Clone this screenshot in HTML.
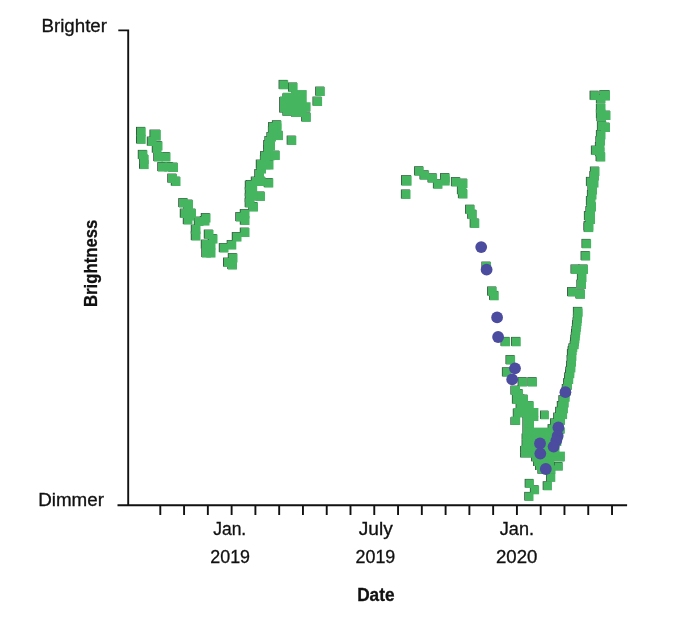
<!DOCTYPE html>
<html><head><meta charset="utf-8"><title>Brightness over time</title>
<style>html,body{margin:0;padding:0;background:#fff}svg{display:block}text{fill:#111;stroke:#111;stroke-width:.3px}</style></head>
<body>
<svg width="680" height="625" viewBox="0 0 680 625">
<rect width="680" height="625" fill="#fff"/>
<path d="M118.3 30.4H128.2V505.3M117.5 505.3H627.1M160.30 505.3V515M184.08 505.3V515M207.85 505.3V515M231.62 505.3V515M255.40 505.3V515M279.18 505.3V515M302.95 505.3V515M326.73 505.3V515M350.50 505.3V515M374.27 505.3V515M398.05 505.3V515M421.82 505.3V515M445.60 505.3V515M469.38 505.3V515M493.15 505.3V515M516.92 505.3V515M540.70 505.3V515M564.47 505.3V515M588.25 505.3V515M612.02 505.3V515" fill="none" stroke="#111" stroke-width="1.9"/>
<g font-family="Liberation Sans, sans-serif" font-size="17.5">
<text x="41.5" y="32" textLength="65.5" lengthAdjust="spacingAndGlyphs">Brighter</text>
<text x="38.2" y="505.8" textLength="65.8" lengthAdjust="spacingAndGlyphs">Dimmer</text>
<text x="213.2" y="534.8" textLength="33" lengthAdjust="spacingAndGlyphs">Jan.</text>
<text x="210.3" y="562.8" textLength="39.7" lengthAdjust="spacingAndGlyphs">2019</text>
<text x="358.8" y="534.8" textLength="34" lengthAdjust="spacingAndGlyphs">July</text>
<text x="355.6" y="562.8" textLength="39.7" lengthAdjust="spacingAndGlyphs">2019</text>
<text x="499.8" y="534.8" textLength="34.2" lengthAdjust="spacingAndGlyphs">Jan.</text>
<text x="496" y="562.8" textLength="41.4" lengthAdjust="spacingAndGlyphs">2020</text>
<text x="357.2" y="600.9" font-weight="bold" textLength="37.3" lengthAdjust="spacingAndGlyphs">Date</text>
<text transform="translate(97.4 307) rotate(-90)" font-weight="bold" font-size="18" textLength="87.3" lengthAdjust="spacingAndGlyphs">Brightness</text>
</g>
<g fill="#2c3a30"><rect x="136.0" y="126.9" width="9.0" height="9.0"/><rect x="136.0" y="134.4" width="9.0" height="9.0"/><rect x="137.8" y="149.9" width="9.0" height="9.0"/><rect x="139.0" y="154.6" width="9.0" height="9.0"/><rect x="139.0" y="159.7" width="9.0" height="9.0"/><rect x="152.8" y="141.1" width="9.0" height="9.0"/><rect x="149.5" y="129.6" width="10.6" height="10.6"/><rect x="146.8" y="136.6" width="9.0" height="9.0"/><rect x="151.8" y="143.6" width="9.0" height="9.0"/><rect x="153.3" y="152.1" width="9.0" height="9.0"/><rect x="160.8" y="152.1" width="9.0" height="9.0"/><rect x="157.3" y="162.1" width="9.0" height="9.0"/><rect x="163.8" y="162.1" width="9.0" height="9.0"/><rect x="168.3" y="162.6" width="9.0" height="9.0"/><rect x="167.3" y="173.6" width="9.0" height="9.0"/><rect x="170.8" y="176.6" width="9.0" height="9.0"/><rect x="178.3" y="198.1" width="9.0" height="9.0"/><rect x="183.3" y="199.6" width="9.0" height="9.0"/><rect x="179.8" y="208.6" width="9.0" height="9.0"/><rect x="184.8" y="211.1" width="9.0" height="9.0"/><rect x="182.8" y="215.1" width="9.0" height="9.0"/><rect x="200.8" y="213.1" width="9.0" height="9.0"/><rect x="199.8" y="216.1" width="9.0" height="9.0"/><rect x="193.8" y="216.6" width="9.0" height="9.0"/><rect x="190.8" y="224.6" width="9.0" height="9.0"/><rect x="190.8" y="231.1" width="9.0" height="9.0"/><rect x="203.8" y="229.6" width="9.0" height="9.0"/><rect x="207.8" y="234.1" width="9.0" height="9.0"/><rect x="200.8" y="239.6" width="9.0" height="9.0"/><rect x="205.8" y="240.1" width="9.0" height="9.0"/><rect x="201.3" y="248.1" width="9.0" height="9.0"/><rect x="205.8" y="248.1" width="9.0" height="9.0"/><rect x="218.8" y="243.1" width="9.0" height="9.0"/><rect x="226.7" y="240.1" width="9.0" height="9.0"/><rect x="231.8" y="232.1" width="9.0" height="9.0"/><rect x="239.8" y="227.6" width="9.0" height="9.0"/><rect x="227.8" y="253.1" width="9.0" height="9.0"/><rect x="223.0" y="257.6" width="9.0" height="9.0"/><rect x="227.3" y="260.1" width="9.0" height="9.0"/><rect x="235.3" y="212.1" width="9.0" height="9.0"/><rect x="239.8" y="209.1" width="9.0" height="9.0"/><rect x="239.8" y="215.6" width="9.0" height="9.0"/><rect x="244.8" y="180.6" width="9.0" height="9.0"/><rect x="244.8" y="187.1" width="9.0" height="9.0"/><rect x="244.8" y="193.1" width="9.0" height="9.0"/><rect x="248.3" y="202.1" width="9.0" height="9.0"/><rect x="244.7" y="198.1" width="9.0" height="9.0"/><rect x="255.3" y="191.5" width="9.0" height="9.0"/><rect x="245.8" y="180.1" width="9.0" height="9.0"/><rect x="250.8" y="176.6" width="9.0" height="9.0"/><rect x="255.8" y="176.6" width="9.0" height="9.0"/><rect x="263.7" y="178.1" width="9.0" height="9.0"/><rect x="254.3" y="169.1" width="9.0" height="9.0"/><rect x="256.4" y="164.1" width="9.0" height="9.0"/><rect x="255.8" y="159.6" width="9.0" height="9.0"/><rect x="260.9" y="159.9" width="9.0" height="9.0"/><rect x="263.9" y="160.1" width="9.0" height="9.0"/><rect x="259.9" y="155.1" width="9.0" height="9.0"/><rect x="260.1" y="151.1" width="9.0" height="9.0"/><rect x="264.9" y="151.1" width="9.0" height="9.0"/><rect x="270.2" y="150.6" width="9.0" height="9.0"/><rect x="263.2" y="145.1" width="9.0" height="9.0"/><rect x="263.2" y="140.1" width="9.0" height="9.0"/><rect x="264.4" y="136.1" width="9.0" height="9.0"/><rect x="266.4" y="132.1" width="9.0" height="9.0"/><rect x="273.4" y="130.7" width="9.0" height="9.0"/><rect x="267.9" y="126.1" width="9.0" height="9.0"/><rect x="271.8" y="123.1" width="9.0" height="9.0"/><rect x="271.9" y="120.3" width="9.0" height="9.0"/><rect x="268.1" y="122.1" width="9.0" height="9.0"/><rect x="286.7" y="135.6" width="9.0" height="9.0"/><rect x="247.5" y="185.1" width="9.0" height="9.0"/><rect x="247.5" y="191.1" width="9.0" height="9.0"/><rect x="186.3" y="208.6" width="9.0" height="9.0"/><rect x="265.4" y="141.1" width="9.0" height="9.0"/><rect x="278.6" y="79.9" width="9.0" height="9.0"/><rect x="288.0" y="82.5" width="9.0" height="9.0"/><rect x="315.2" y="86.6" width="9.0" height="9.0"/><rect x="312.5" y="96.6" width="9.0" height="9.0"/><rect x="301.2" y="112.4" width="9.0" height="9.0"/><rect x="282.4" y="93.3" width="9.0" height="22.4"/><rect x="279.2" y="97.0" width="4.2" height="15.5"/><rect x="291.4" y="90.7" width="14.7" height="26.3"/><rect x="305.4" y="102.9" width="4.6" height="8.6"/><rect x="401.0" y="175.2" width="10.0" height="10.0"/><rect x="400.9" y="189.5" width="9.0" height="9.0"/><rect x="414.1" y="166.3" width="9.0" height="9.0"/><rect x="419.5" y="170.3" width="9.0" height="9.0"/><rect x="427.5" y="173.3" width="9.0" height="9.0"/><rect x="432.9" y="179.3" width="9.0" height="9.0"/><rect x="440.1" y="173.1" width="9.0" height="9.0"/><rect x="440.1" y="176.1" width="9.0" height="9.0"/><rect x="450.9" y="177.1" width="9.0" height="9.0"/><rect x="457.9" y="178.6" width="9.0" height="9.0"/><rect x="456.9" y="185.1" width="9.0" height="9.0"/><rect x="457.9" y="189.1" width="9.0" height="9.0"/><rect x="465.1" y="204.7" width="9.0" height="9.0"/><rect x="467.2" y="209.7" width="9.0" height="9.0"/><rect x="469.7" y="218.5" width="9.0" height="9.0"/><rect x="481.4" y="261.6" width="9.0" height="9.0"/><rect x="487.1" y="286.5" width="9.0" height="9.0"/><rect x="489.1" y="290.9" width="9.0" height="9.0"/><rect x="500.5" y="336.9" width="9.0" height="9.0"/><rect x="511.1" y="336.9" width="9.0" height="9.0"/><rect x="505.5" y="355.1" width="9.0" height="9.0"/><rect x="501.9" y="367.3" width="9.0" height="9.0"/><rect x="517.6" y="377.1" width="9.0" height="9.0"/><rect x="527.4" y="377.1" width="9.0" height="9.0"/><rect x="510.4" y="385.6" width="9.0" height="9.0"/><rect x="513.4" y="389.1" width="9.0" height="9.0"/><rect x="515.4" y="394.6" width="9.0" height="9.0"/><rect x="518.4" y="394.6" width="9.0" height="9.0"/><rect x="516.4" y="401.1" width="9.0" height="9.0"/><rect x="523.9" y="401.1" width="9.0" height="9.0"/><rect x="515.6" y="402.0" width="17.3" height="7.0"/><rect x="512.8" y="408.6" width="25.0" height="8.6"/><rect x="522.4" y="417.0" width="15.4" height="4.0"/><rect x="510.4" y="417.2" width="9.2" height="7.7"/><rect x="522.4" y="421.0" width="11.0" height="15.0"/><rect x="511.9" y="394.6" width="9.0" height="9.0"/><rect x="540.0" y="410.6" width="8.3" height="8.3"/><rect x="524.4" y="428.2" width="39.8" height="5.3"/><rect x="521.6" y="433.5" width="40.8" height="6.0"/><rect x="521.6" y="439.5" width="39.1" height="6.5"/><rect x="520.1" y="446.0" width="38.7" height="6.5"/><rect x="520.1" y="452.2" width="44.1" height="5.2"/><rect x="531.1" y="457.4" width="33.1" height="3.9"/><rect x="533.1" y="461.3" width="20.6" height="4.7"/><rect x="535.0" y="466.0" width="19.4" height="4.0"/><rect x="537.4" y="470.0" width="17.5" height="3.7"/><rect x="554.0" y="462.0" width="8.2" height="8.2"/><rect x="546.1" y="472.8" width="8.6" height="8.6"/><rect x="542.7" y="481.3" width="8.6" height="8.6"/><rect x="524.7" y="478.9" width="8.6" height="8.6"/><rect x="529.9" y="485.3" width="8.6" height="8.6"/><rect x="524.3" y="491.9" width="8.6" height="8.6"/><rect x="551.9" y="427.1" width="9.0" height="9.0"/><rect x="547.6" y="424.2" width="9.0" height="9.0"/><rect x="553.3" y="421.3" width="9.0" height="9.0"/><rect x="550.0" y="418.4" width="9.0" height="9.0"/><rect x="555.3" y="415.5" width="9.0" height="9.0"/><rect x="553.2" y="412.6" width="9.0" height="9.0"/><rect x="557.4" y="409.7" width="9.0" height="9.0"/><rect x="555.2" y="406.8" width="9.0" height="9.0"/><rect x="558.2" y="403.9" width="9.0" height="9.0"/><rect x="556.8" y="401.0" width="9.0" height="9.0"/><rect x="559.1" y="398.1" width="9.0" height="9.0"/><rect x="558.4" y="395.2" width="9.0" height="9.0"/><rect x="560.0" y="392.3" width="9.0" height="9.0"/><rect x="560.4" y="389.8" width="8.3" height="8.3"/><rect x="561.7" y="386.9" width="8.3" height="8.3"/><rect x="561.8" y="384.0" width="8.3" height="8.3"/><rect x="563.1" y="381.1" width="8.3" height="8.3"/><rect x="563.1" y="378.2" width="8.3" height="8.3"/><rect x="564.2" y="375.3" width="8.3" height="8.3"/><rect x="564.2" y="372.4" width="8.3" height="8.3"/><rect x="565.3" y="369.5" width="8.3" height="8.3"/><rect x="565.3" y="366.6" width="8.3" height="8.3"/><rect x="566.4" y="363.7" width="8.3" height="8.3"/><rect x="566.2" y="360.8" width="8.3" height="8.3"/><rect x="567.0" y="357.9" width="8.3" height="8.3"/><rect x="566.6" y="355.0" width="8.3" height="8.3"/><rect x="567.4" y="352.1" width="8.3" height="8.3"/><rect x="566.9" y="349.2" width="8.3" height="8.3"/><rect x="567.6" y="346.3" width="8.3" height="8.3"/><rect x="568.4" y="343.4" width="8.3" height="8.3"/><rect x="569.7" y="340.5" width="8.3" height="8.3"/><rect x="570.1" y="337.6" width="8.3" height="8.3"/><rect x="570.4" y="334.7" width="8.3" height="8.3"/><rect x="570.8" y="331.8" width="8.3" height="8.3"/><rect x="571.1" y="328.9" width="8.3" height="8.3"/><rect x="571.5" y="326.0" width="8.3" height="8.3"/><rect x="571.9" y="323.1" width="8.3" height="8.3"/><rect x="572.2" y="320.2" width="8.3" height="8.3"/><rect x="572.6" y="317.3" width="8.3" height="8.3"/><rect x="572.9" y="314.4" width="8.3" height="8.3"/><rect x="573.1" y="311.5" width="8.3" height="8.3"/><rect x="573.4" y="308.6" width="8.3" height="8.3"/><rect x="572.9" y="306.9" width="9.0" height="9.0"/><rect x="567.1" y="287.1" width="9.0" height="9.0"/><rect x="575.4" y="289.4" width="9.0" height="9.0"/><rect x="576.9" y="272.6" width="9.0" height="9.0"/><rect x="576.4" y="279.6" width="9.0" height="9.0"/><rect x="570.5" y="264.5" width="9.0" height="9.0"/><rect x="578.4" y="264.5" width="9.0" height="9.0"/><rect x="580.6" y="251.1" width="9.0" height="9.0"/><rect x="581.5" y="238.9" width="9.0" height="9.0"/><rect x="583.6" y="222.7" width="9.0" height="9.0"/><rect x="583.6" y="221.1" width="9.0" height="9.0"/><rect x="585.4" y="214.6" width="9.0" height="9.0"/><rect x="583.9" y="211.1" width="9.0" height="9.0"/><rect x="585.4" y="206.1" width="9.0" height="9.0"/><rect x="586.4" y="202.1" width="9.0" height="9.0"/><rect x="585.9" y="196.1" width="9.0" height="9.0"/><rect x="586.9" y="190.1" width="9.0" height="9.0"/><rect x="587.4" y="185.1" width="9.0" height="9.0"/><rect x="588.9" y="178.1" width="9.0" height="9.0"/><rect x="585.9" y="176.9" width="9.0" height="9.0"/><rect x="589.4" y="171.1" width="9.0" height="9.0"/><rect x="589.9" y="166.6" width="9.0" height="9.0"/><rect x="595.6" y="152.1" width="9.0" height="9.0"/><rect x="594.9" y="147.1" width="9.0" height="9.0"/><rect x="590.9" y="145.6" width="9.0" height="9.0"/><rect x="594.9" y="142.1" width="9.0" height="9.0"/><rect x="595.4" y="136.1" width="9.0" height="9.0"/><rect x="595.9" y="130.1" width="9.0" height="9.0"/><rect x="596.9" y="121.1" width="9.0" height="9.0"/><rect x="600.4" y="122.6" width="9.0" height="9.0"/><rect x="600.9" y="110.6" width="9.0" height="9.0"/><rect x="596.4" y="112.1" width="9.0" height="9.0"/><rect x="595.9" y="109.1" width="9.0" height="9.0"/><rect x="595.9" y="103.6" width="9.0" height="9.0"/><rect x="595.9" y="94.1" width="9.0" height="9.0"/><rect x="589.6" y="90.7" width="9.0" height="9.0"/><rect x="599.4" y="90.1" width="10.0" height="10.0"/></g>
<g fill="#45b560"><rect x="136.7" y="127.3" width="9.0" height="9.0"/><rect x="136.7" y="134.8" width="9.0" height="9.0"/><rect x="138.4" y="150.3" width="9.0" height="9.0"/><rect x="139.7" y="155.0" width="9.0" height="9.0"/><rect x="139.7" y="160.1" width="9.0" height="9.0"/><rect x="153.5" y="141.5" width="9.0" height="9.0"/><rect x="150.2" y="130.0" width="10.6" height="10.6"/><rect x="147.5" y="137.0" width="9.0" height="9.0"/><rect x="152.5" y="144.0" width="9.0" height="9.0"/><rect x="154.0" y="152.5" width="9.0" height="9.0"/><rect x="161.5" y="152.5" width="9.0" height="9.0"/><rect x="158.0" y="162.5" width="9.0" height="9.0"/><rect x="164.5" y="162.5" width="9.0" height="9.0"/><rect x="169.0" y="163.0" width="9.0" height="9.0"/><rect x="168.0" y="174.0" width="9.0" height="9.0"/><rect x="171.5" y="177.0" width="9.0" height="9.0"/><rect x="179.0" y="198.5" width="9.0" height="9.0"/><rect x="184.0" y="200.0" width="9.0" height="9.0"/><rect x="180.5" y="209.0" width="9.0" height="9.0"/><rect x="185.5" y="211.5" width="9.0" height="9.0"/><rect x="183.5" y="215.5" width="9.0" height="9.0"/><rect x="201.5" y="213.5" width="9.0" height="9.0"/><rect x="200.5" y="216.5" width="9.0" height="9.0"/><rect x="194.5" y="217.0" width="9.0" height="9.0"/><rect x="191.5" y="225.0" width="9.0" height="9.0"/><rect x="191.5" y="231.5" width="9.0" height="9.0"/><rect x="204.5" y="230.0" width="9.0" height="9.0"/><rect x="208.5" y="234.5" width="9.0" height="9.0"/><rect x="201.5" y="240.0" width="9.0" height="9.0"/><rect x="206.5" y="240.5" width="9.0" height="9.0"/><rect x="202.0" y="248.5" width="9.0" height="9.0"/><rect x="206.5" y="248.5" width="9.0" height="9.0"/><rect x="219.5" y="243.5" width="9.0" height="9.0"/><rect x="227.3" y="240.5" width="9.0" height="9.0"/><rect x="232.5" y="232.5" width="9.0" height="9.0"/><rect x="240.5" y="228.0" width="9.0" height="9.0"/><rect x="228.5" y="253.5" width="9.0" height="9.0"/><rect x="223.7" y="258.0" width="9.0" height="9.0"/><rect x="228.0" y="260.5" width="9.0" height="9.0"/><rect x="236.0" y="212.5" width="9.0" height="9.0"/><rect x="240.5" y="209.5" width="9.0" height="9.0"/><rect x="240.5" y="216.0" width="9.0" height="9.0"/><rect x="245.5" y="181.0" width="9.0" height="9.0"/><rect x="245.5" y="187.5" width="9.0" height="9.0"/><rect x="245.5" y="193.5" width="9.0" height="9.0"/><rect x="249.0" y="202.5" width="9.0" height="9.0"/><rect x="245.3" y="198.5" width="9.0" height="9.0"/><rect x="256.0" y="191.9" width="9.0" height="9.0"/><rect x="246.5" y="180.5" width="9.0" height="9.0"/><rect x="251.5" y="177.0" width="9.0" height="9.0"/><rect x="256.5" y="177.0" width="9.0" height="9.0"/><rect x="264.3" y="178.5" width="9.0" height="9.0"/><rect x="255.0" y="169.5" width="9.0" height="9.0"/><rect x="257.0" y="164.5" width="9.0" height="9.0"/><rect x="256.5" y="160.0" width="9.0" height="9.0"/><rect x="261.5" y="160.3" width="9.0" height="9.0"/><rect x="264.5" y="160.5" width="9.0" height="9.0"/><rect x="260.5" y="155.5" width="9.0" height="9.0"/><rect x="260.7" y="151.5" width="9.0" height="9.0"/><rect x="265.5" y="151.5" width="9.0" height="9.0"/><rect x="270.8" y="151.0" width="9.0" height="9.0"/><rect x="263.8" y="145.5" width="9.0" height="9.0"/><rect x="263.8" y="140.5" width="9.0" height="9.0"/><rect x="265.0" y="136.5" width="9.0" height="9.0"/><rect x="267.0" y="132.5" width="9.0" height="9.0"/><rect x="274.0" y="131.1" width="9.0" height="9.0"/><rect x="268.5" y="126.5" width="9.0" height="9.0"/><rect x="272.4" y="123.5" width="9.0" height="9.0"/><rect x="272.5" y="120.7" width="9.0" height="9.0"/><rect x="268.7" y="122.5" width="9.0" height="9.0"/><rect x="287.3" y="136.0" width="9.0" height="9.0"/><rect x="248.2" y="185.5" width="9.0" height="9.0"/><rect x="248.2" y="191.5" width="9.0" height="9.0"/><rect x="187.0" y="209.0" width="9.0" height="9.0"/><rect x="266.0" y="141.5" width="9.0" height="9.0"/><rect x="279.2" y="80.3" width="9.0" height="9.0"/><rect x="288.6" y="82.9" width="9.0" height="9.0"/><rect x="315.8" y="87.0" width="9.0" height="9.0"/><rect x="313.1" y="97.0" width="9.0" height="9.0"/><rect x="301.9" y="112.8" width="9.0" height="9.0"/><rect x="283.0" y="92.7" width="9.0" height="23.0"/><rect x="279.8" y="96.4" width="4.2" height="16.1"/><rect x="292.0" y="90.1" width="14.7" height="26.9"/><rect x="306.0" y="102.3" width="4.6" height="9.2"/><rect x="401.6" y="175.6" width="10.0" height="10.0"/><rect x="401.5" y="189.9" width="9.0" height="9.0"/><rect x="414.7" y="166.7" width="9.0" height="9.0"/><rect x="420.1" y="170.7" width="9.0" height="9.0"/><rect x="428.1" y="173.7" width="9.0" height="9.0"/><rect x="433.5" y="179.7" width="9.0" height="9.0"/><rect x="440.7" y="173.5" width="9.0" height="9.0"/><rect x="440.7" y="176.5" width="9.0" height="9.0"/><rect x="451.5" y="177.5" width="9.0" height="9.0"/><rect x="458.5" y="179.0" width="9.0" height="9.0"/><rect x="457.5" y="185.5" width="9.0" height="9.0"/><rect x="458.5" y="189.5" width="9.0" height="9.0"/><rect x="465.7" y="205.1" width="9.0" height="9.0"/><rect x="467.8" y="210.1" width="9.0" height="9.0"/><rect x="470.3" y="218.9" width="9.0" height="9.0"/><rect x="482.0" y="262.0" width="9.0" height="9.0"/><rect x="487.7" y="286.9" width="9.0" height="9.0"/><rect x="489.7" y="291.3" width="9.0" height="9.0"/><rect x="501.1" y="337.3" width="9.0" height="9.0"/><rect x="511.7" y="337.3" width="9.0" height="9.0"/><rect x="506.1" y="355.5" width="9.0" height="9.0"/><rect x="502.5" y="367.7" width="9.0" height="9.0"/><rect x="518.3" y="377.5" width="9.0" height="9.0"/><rect x="528.0" y="377.5" width="9.0" height="9.0"/><rect x="511.0" y="386.0" width="9.0" height="9.0"/><rect x="514.0" y="389.5" width="9.0" height="9.0"/><rect x="516.0" y="395.0" width="9.0" height="9.0"/><rect x="519.0" y="395.0" width="9.0" height="9.0"/><rect x="517.0" y="401.5" width="9.0" height="9.0"/><rect x="524.5" y="401.5" width="9.0" height="9.0"/><rect x="516.3" y="401.4" width="17.3" height="7.6"/><rect x="513.4" y="408.0" width="25.0" height="9.2"/><rect x="523.0" y="416.4" width="15.4" height="4.6"/><rect x="511.0" y="416.6" width="9.2" height="8.3"/><rect x="523.0" y="420.4" width="11.0" height="15.6"/><rect x="512.5" y="395.0" width="9.0" height="9.0"/><rect x="540.6" y="411.0" width="8.3" height="8.3"/><rect x="525.0" y="427.6" width="39.8" height="5.9"/><rect x="522.2" y="432.9" width="40.8" height="6.6"/><rect x="522.2" y="438.9" width="39.1" height="7.1"/><rect x="520.8" y="445.4" width="38.7" height="7.1"/><rect x="520.8" y="451.6" width="44.1" height="5.8"/><rect x="531.8" y="456.8" width="33.1" height="4.5"/><rect x="533.7" y="460.7" width="20.6" height="5.3"/><rect x="535.6" y="465.4" width="19.4" height="4.6"/><rect x="538.0" y="469.4" width="17.5" height="4.3"/><rect x="554.7" y="462.4" width="8.2" height="8.2"/><rect x="546.7" y="473.2" width="8.6" height="8.6"/><rect x="543.3" y="481.7" width="8.6" height="8.6"/><rect x="525.3" y="479.3" width="8.6" height="8.6"/><rect x="530.5" y="485.7" width="8.6" height="8.6"/><rect x="524.9" y="492.3" width="8.6" height="8.6"/><rect x="552.5" y="427.5" width="9.0" height="9.0"/><rect x="548.3" y="424.6" width="9.0" height="9.0"/><rect x="553.9" y="421.7" width="9.0" height="9.0"/><rect x="550.6" y="418.8" width="9.0" height="9.0"/><rect x="556.0" y="415.9" width="9.0" height="9.0"/><rect x="553.8" y="413.0" width="9.0" height="9.0"/><rect x="558.1" y="410.1" width="9.0" height="9.0"/><rect x="555.9" y="407.2" width="9.0" height="9.0"/><rect x="558.9" y="404.3" width="9.0" height="9.0"/><rect x="557.5" y="401.4" width="9.0" height="9.0"/><rect x="559.7" y="398.5" width="9.0" height="9.0"/><rect x="559.1" y="395.6" width="9.0" height="9.0"/><rect x="560.7" y="392.7" width="9.0" height="9.0"/><rect x="561.1" y="390.2" width="8.3" height="8.3"/><rect x="562.3" y="387.3" width="8.3" height="8.3"/><rect x="562.4" y="384.4" width="8.3" height="8.3"/><rect x="563.7" y="381.5" width="8.3" height="8.3"/><rect x="563.7" y="378.6" width="8.3" height="8.3"/><rect x="564.9" y="375.7" width="8.3" height="8.3"/><rect x="564.8" y="372.8" width="8.3" height="8.3"/><rect x="566.0" y="369.9" width="8.3" height="8.3"/><rect x="565.9" y="367.0" width="8.3" height="8.3"/><rect x="567.1" y="364.1" width="8.3" height="8.3"/><rect x="566.8" y="361.2" width="8.3" height="8.3"/><rect x="567.7" y="358.3" width="8.3" height="8.3"/><rect x="567.3" y="355.4" width="8.3" height="8.3"/><rect x="568.1" y="352.5" width="8.3" height="8.3"/><rect x="567.6" y="349.6" width="8.3" height="8.3"/><rect x="568.3" y="346.7" width="8.3" height="8.3"/><rect x="569.0" y="343.8" width="8.3" height="8.3"/><rect x="570.4" y="340.9" width="8.3" height="8.3"/><rect x="570.7" y="338.0" width="8.3" height="8.3"/><rect x="571.1" y="335.1" width="8.3" height="8.3"/><rect x="571.4" y="332.2" width="8.3" height="8.3"/><rect x="571.8" y="329.3" width="8.3" height="8.3"/><rect x="572.1" y="326.4" width="8.3" height="8.3"/><rect x="572.5" y="323.5" width="8.3" height="8.3"/><rect x="572.9" y="320.6" width="8.3" height="8.3"/><rect x="573.2" y="317.7" width="8.3" height="8.3"/><rect x="573.5" y="314.8" width="8.3" height="8.3"/><rect x="573.8" y="311.9" width="8.3" height="8.3"/><rect x="574.1" y="309.0" width="8.3" height="8.3"/><rect x="573.5" y="307.3" width="9.0" height="9.0"/><rect x="567.8" y="287.5" width="9.0" height="9.0"/><rect x="576.0" y="289.8" width="9.0" height="9.0"/><rect x="577.5" y="273.0" width="9.0" height="9.0"/><rect x="577.0" y="280.0" width="9.0" height="9.0"/><rect x="571.1" y="264.9" width="9.0" height="9.0"/><rect x="579.0" y="264.9" width="9.0" height="9.0"/><rect x="581.2" y="251.5" width="9.0" height="9.0"/><rect x="582.1" y="239.3" width="9.0" height="9.0"/><rect x="584.3" y="223.1" width="9.0" height="9.0"/><rect x="584.3" y="221.5" width="9.0" height="9.0"/><rect x="586.0" y="215.0" width="9.0" height="9.0"/><rect x="584.5" y="211.5" width="9.0" height="9.0"/><rect x="586.0" y="206.5" width="9.0" height="9.0"/><rect x="587.0" y="202.5" width="9.0" height="9.0"/><rect x="586.5" y="196.5" width="9.0" height="9.0"/><rect x="587.5" y="190.5" width="9.0" height="9.0"/><rect x="588.0" y="185.5" width="9.0" height="9.0"/><rect x="589.5" y="178.5" width="9.0" height="9.0"/><rect x="586.5" y="177.3" width="9.0" height="9.0"/><rect x="590.0" y="171.5" width="9.0" height="9.0"/><rect x="590.5" y="167.0" width="9.0" height="9.0"/><rect x="596.3" y="152.5" width="9.0" height="9.0"/><rect x="595.5" y="147.5" width="9.0" height="9.0"/><rect x="591.5" y="146.0" width="9.0" height="9.0"/><rect x="595.5" y="142.5" width="9.0" height="9.0"/><rect x="596.0" y="136.5" width="9.0" height="9.0"/><rect x="596.5" y="130.5" width="9.0" height="9.0"/><rect x="597.5" y="121.5" width="9.0" height="9.0"/><rect x="601.0" y="123.0" width="9.0" height="9.0"/><rect x="601.5" y="111.0" width="9.0" height="9.0"/><rect x="597.0" y="112.5" width="9.0" height="9.0"/><rect x="596.5" y="109.5" width="9.0" height="9.0"/><rect x="596.5" y="104.0" width="9.0" height="9.0"/><rect x="596.5" y="94.5" width="9.0" height="9.0"/><rect x="590.3" y="91.1" width="9.0" height="9.0"/><rect x="600.0" y="90.5" width="10.0" height="10.0"/></g>
<g fill="#4b4ba0"><circle cx="481.2" cy="247.1" r="5.9"/><circle cx="486.6" cy="269.7" r="5.9"/><circle cx="497.1" cy="317.4" r="5.9"/><circle cx="498.1" cy="337" r="5.9"/><circle cx="515" cy="368.3" r="5.9"/><circle cx="512.2" cy="379.4" r="5.9"/><circle cx="565.4" cy="392.2" r="5.9"/><circle cx="558.4" cy="427.4" r="5.9"/><circle cx="557.7" cy="435.8" r="5.9"/><circle cx="556.3" cy="440.6" r="5.9"/><circle cx="553.6" cy="446.6" r="5.9"/><circle cx="540" cy="443.5" r="5.9"/><circle cx="540.3" cy="453.6" r="5.9"/><circle cx="545.8" cy="469" r="5.9"/></g>
</svg>
</body></html>
